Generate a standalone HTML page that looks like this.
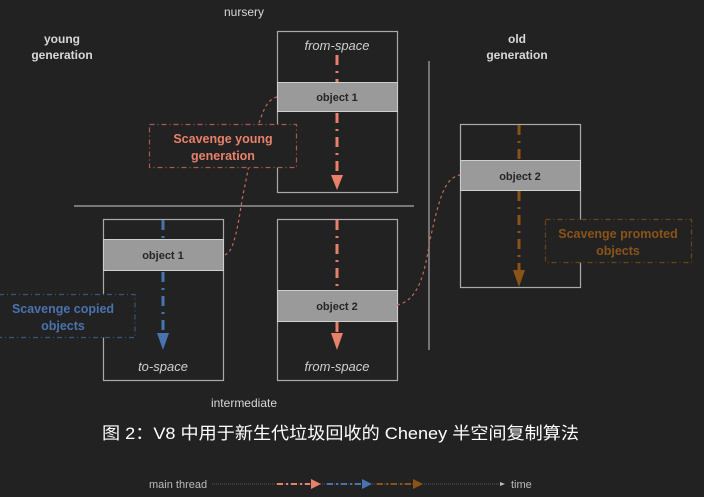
<!DOCTYPE html>
<html><head><meta charset="utf-8"><style>
html,body{margin:0;padding:0;background:#222222;}
svg{display:block}
text{font-family:"Liberation Sans","Noto Sans CJK SC",sans-serif;}
</style></head><body>
<svg width="704" height="497" viewBox="0 0 704 497" xmlns="http://www.w3.org/2000/svg">
<rect width="704" height="497" fill="#222222"/>
<g fill="#d8d8d8" font-size="12" text-anchor="middle">
<text x="244" y="16">nursery</text>
<text x="62" y="43" font-weight="bold">young</text>
<text x="62" y="59" font-weight="bold">generation</text>
<text x="517" y="43" font-weight="bold">old</text>
<text x="517" y="59" font-weight="bold">generation</text>
<text x="244" y="407">intermediate</text>
</g>
<line x1="74" y1="206" x2="414" y2="206" stroke="#aaa" stroke-width="1.2"/>
<line x1="429" y1="61" x2="429" y2="350" stroke="#aaa" stroke-width="1.2"/>
<g fill="none" stroke="#aaa" stroke-width="1.2">
<rect x="277.5" y="31.5" width="120" height="161"/>
<rect x="460.5" y="124.5" width="120" height="163"/>
<rect x="103.5" y="219.5" width="120" height="161"/>
<rect x="277.5" y="219.5" width="120" height="161"/>
</g>
<g fill="#9a9a9a" stroke="#cfcfcf" stroke-width="1">
<rect x="277.5" y="82.5" width="120" height="29"/>
<rect x="460.5" y="160.5" width="120" height="30"/>
<rect x="103.5" y="239.5" width="120" height="31"/>
<rect x="277.5" y="290.5" width="120" height="31"/>
</g>
<g fill="#262626" font-size="11" font-weight="bold" text-anchor="middle">
<text x="337" y="101">object 1</text>
<text x="520" y="180">object 2</text>
<text x="163" y="259">object 1</text>
<text x="337" y="310">object 2</text>
</g>
<g fill="#cfcfcf" font-size="13" font-style="italic" text-anchor="middle">
<text x="337" y="50">from-space</text>
<text x="163" y="371">to-space</text>
<text x="337" y="371">from-space</text>
</g>
<g stroke-width="3" stroke-dasharray="10,6,2,6" fill="none">
<line x1="337" y1="55" x2="337" y2="82" stroke="#e8806a"/>
<line x1="337" y1="113" x2="337" y2="175" stroke="#e8806a"/>
<line x1="337" y1="220" x2="337" y2="290" stroke="#e8806a"/>
<line x1="337" y1="322" x2="337" y2="333" stroke="#e8806a"/>
<line x1="163" y1="220" x2="163" y2="239" stroke="#4a72b0"/>
<line x1="163" y1="272" x2="163" y2="333" stroke="#4a72b0"/>
<line x1="519" y1="125" x2="519" y2="160" stroke="#8a5318"/>
<line x1="519" y1="191" x2="519" y2="270" stroke="#8a5318"/>
</g>
<polygon points="331,175 343,175 337,190" fill="#e8806a"/>
<polygon points="331,333 343,333 337,350" fill="#e8806a"/>
<polygon points="157,333 169,333 163,350" fill="#4a72b0"/>
<polygon points="513,270 525,270 519,287" fill="#8a5318"/>
<g fill="none" stroke-width="1.2" stroke-dasharray="3,3">
<path d="M277,97 C265,100 262,115 255,135 L242,200 C236,240 232,252 225,255" stroke="#c0685a"/>
<path d="M397,305 C420,300 425,270 430,240 C440,195 445,178 460,175" stroke="#c0685a"/>
</g>
<g fill="#222" stroke-width="1.2" stroke-dasharray="5,3,1,3">
<rect x="149.5" y="124.5" width="147" height="43" stroke="#a85a4c"/>
<rect x="-1" y="294.5" width="136" height="43" stroke="#3d5576"/>
<rect x="545.5" y="219.5" width="146" height="43" stroke="#6b4519"/>
</g>
<g font-size="12.5" font-weight="bold" text-anchor="middle">
<text x="223" y="143" fill="#e8806a">Scavenge young</text>
<text x="223" y="160" fill="#e8806a">generation</text>
<text x="63" y="313" fill="#4a72b0">Scavenge copied</text>
<text x="63" y="330" fill="#4a72b0">objects</text>
<text x="618" y="238" fill="#8a5318">Scavenge promoted</text>
<text x="618" y="255" fill="#8a5318">objects</text>
</g>
<text x="102" y="439" fill="#ffffff" font-size="17" textLength="477" lengthAdjust="spacingAndGlyphs">图 2：V8 中用于新生代垃圾回收的 Cheney 半空间复制算法</text>
<text x="149" y="488" fill="#bbb" font-size="11">main thread</text>
<line x1="212" y1="484" x2="500" y2="484" stroke="#555" stroke-width="1" stroke-dasharray="1,1"/>
<line x1="277" y1="484" x2="310" y2="484" stroke="#e8806a" stroke-width="2" stroke-dasharray="6,3,2,3"/>
<polygon points="311,479 321,484 311,489" fill="#e8806a"/>
<line x1="327" y1="484" x2="362" y2="484" stroke="#4a72b0" stroke-width="2" stroke-dasharray="6,3,2,3"/>
<polygon points="362,479 372,484 362,489" fill="#4a72b0"/>
<line x1="377" y1="484" x2="413" y2="484" stroke="#8a5318" stroke-width="2" stroke-dasharray="6,3,2,3"/>
<polygon points="413,479 423,484 413,489" fill="#8a5318"/>
<polygon points="500,482 505,484 500,486" fill="#bbb"/>
<text x="511" y="488" fill="#bbb" font-size="11">time</text>
</svg>
</body></html>
